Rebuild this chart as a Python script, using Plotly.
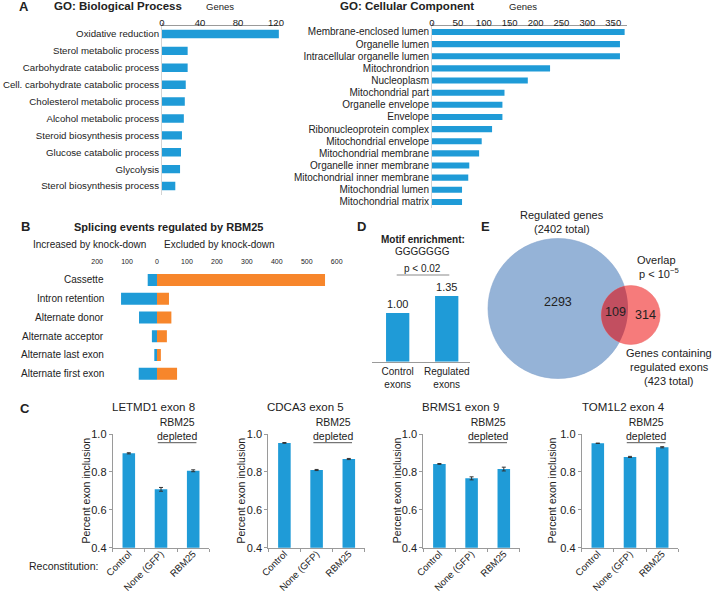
import math
import numpy as np
import plotly.graph_objects as go

W, H = 713, 593
FONT = "Arial, 'Liberation Sans', sans-serif"
BLUE = "#1F9BD7"
ORANGE = "#F7862B"
TXT = "#222222"
AXC = "#9a9a9a"

# ---------------- data ----------------
bp_terms = ["Oxidative reduction", "Sterol metabolic process", "Carbohydrate catabolic process",
            "Cell. carbohydrate catabolic process", "Cholesterol metabolic process",
            "Alcohol metabolic process", "Steroid biosynthesis process",
            "Glucose catabolic process", "Glycolysis", "Sterol biosynthesis process"]
bp_genes = [123, 27, 27, 25, 24, 23, 21, 20, 19, 14]
bp_ticks = [0, 40, 80, 120]

cc_terms = ["Membrane-enclosed lumen", "Organelle lumen", "Intracellular organelle lumen",
            "Mitochrondrion", "Nucleoplasm", "Mitochondrial part", "Organelle envelope",
            "Envelope", "Ribonucleoprotein complex", "Mitochondrial envelope",
            "Mitochondrial membrane", "Organelle inner membrane",
            "Mitochondrial inner membrane", "Mitochondrial lumen", "Mitochondrial matrix"]
cc_genes = [372, 363, 363, 228, 185, 140, 136, 136, 116, 96, 91, 72, 70, 58, 58]
cc_ticks = [0, 50, 100, 150, 200, 250, 300, 350]

splice_types = ["Cassette", "Intron retention", "Alternate donor", "Alternate acceptor",
                "Alternate last exon", "Alternate first exon"]
splice_increased = [31, 120, 60, 17, 9, 61]
splice_excluded = [561, 40, 48, 33, 13, 67]
splice_ticks = [-200, -100, 0, 100, 200, 300, 400, 500, 600]

motif_groups = ["Control<br>exons", "Regulated<br>exons"]
motif_values = [1.00, 1.35]

venn_regulated_total = 2402
venn_exon_total = 423
venn_overlap = 109

recon_conditions = ["Control", "None (GFP)", "RBM25"]
exon_names = ["LETMD1 exon 8", "CDCA3 exon 5", "BRMS1 exon 9", "TOM1L2 exon 4"]
inclusion = [[0.898, 0.708, 0.806],
             [0.953, 0.810, 0.868],
             [0.842, 0.766, 0.815],
             [0.951, 0.879, 0.930]]
inclusion_err = [[0.003, 0.010, 0.005],
                 [0.002, 0.003, 0.003],
                 [0.002, 0.008, 0.010],
                 [0.001, 0.003, 0.003]]
c_yticks = [0.4, 0.6, 0.8, 1.0]

# ---------------- helpers ----------------
def xd(a, b):
    return [a / W, b / W]

def yd(top, bot):
    return [1 - bot / H, 1 - top / H]

def px(x):
    return x / W

def py(y):
    return 1 - y / H

annotations = []
shapes = []

def ann(text, x, y, size=10, bold=False, xanchor="center", yanchor="middle",
        color=TXT, angle=0, xref="paper", yref="paper"):
    if bold:
        text = f"<b>{text}</b>"
    annotations.append(dict(
        text=text, x=px(x) if xref == "paper" else x, y=py(y) if yref == "paper" else y,
        xref=xref, yref=yref, showarrow=False, xanchor=xanchor, yanchor=yanchor,
        font=dict(size=size, color=color, family=FONT), textangle=angle))

common = dict(showgrid=False, zeroline=False, fixedrange=True, automargin=False)

fig = go.Figure()
lay = {}

# ---------------- Panel A ----------------
fig.add_trace(go.Bar(x=bp_genes, y=bp_terms, orientation="h", width=0.5,
                     marker=dict(color=BLUE, line_width=0), xaxis="x", yaxis="y"))
lay["xaxis"] = dict(domain=xd(162, 280.75), range=[0, 125], side="top", anchor="y",
                    tickvals=bp_ticks, showline=True, linecolor=AXC, ticks="outside",
                    ticklen=2, tickcolor=AXC, ticklabelstandoff=-7,
                    tickfont=dict(size=9.5, color=TXT), **common)
lay["yaxis"] = dict(domain=yd(25.5, 194.5), range=[9.5, -0.5], type="category", anchor="x",
                    dtick=1, showline=True, linecolor="#d4d4d4", ticks="",
                    tickfont=dict(size=9.7, color=TXT), **common)

fig.add_trace(go.Bar(x=cc_genes, y=cc_terms, orientation="h", width=0.5,
                     marker=dict(color=BLUE, line_width=0), xaxis="x2", yaxis="y2"))
lay["xaxis2"] = dict(domain=xd(432, 626.7), range=[0, 376], side="top", anchor="y2",
                     tickvals=cc_ticks, showline=True, linecolor=AXC, ticks="outside",
                     ticklen=2, tickcolor=AXC, ticklabelstandoff=-7,
                     tickfont=dict(size=9.5, color=TXT), **common)
lay["yaxis2"] = dict(domain=yd(25.9, 208.0), range=[14.5, -0.5], type="category", anchor="x2",
                     dtick=1, showline=True, linecolor="#d4d4d4", ticks="",
                     tickfont=dict(size=10, color=TXT), **common)

ann("A", 24, 6, size=13, bold=True)
ann("GO: Biological Process", 52, 6, size=11.5, bold=True, xanchor="left")
ann("Genes", 220, 6, size=9.5)
ann("GO: Cellular Component", 337.5, 6, size=11.5, bold=True, xanchor="left")
ann("Genes", 523, 6, size=9.5)

# ---------------- Panel B ----------------
fig.add_trace(go.Bar(x=[-v for v in splice_increased], y=splice_types, orientation="h",
                     width=0.64, marker=dict(color=BLUE, line_width=0),
                     xaxis="x3", yaxis="y3"))
fig.add_trace(go.Bar(x=splice_excluded, y=splice_types, orientation="h",
                     width=0.64, marker=dict(color=ORANGE, line_width=0),
                     xaxis="x3", yaxis="y3"))
lay["xaxis3"] = dict(domain=xd(88.1, 345.7), range=[-230, 630], side="top", anchor="y3",
                     tickvals=splice_ticks, ticktext=[str(abs(v)) for v in splice_ticks],
                     showline=False, ticks="", ticklabelstandoff=4,
                     tickfont=dict(size=7, color=TXT), **common)
lay["yaxis3"] = dict(domain=yd(270.6, 383.1), range=[5.5, -0.5], type="category", anchor="x3",
                     showticklabels=False, showline=False, ticks="", **common)
for name in splice_types:
    annotations.append(dict(text=name, x=px(105.5), y=name, xref="paper", yref="y3",
                            showarrow=False, xanchor="right", yanchor="middle",
                            font=dict(size=10, color=TXT, family=FONT)))

ann("B", 25, 227, size=13, bold=True)
ann("Splicing events regulated by RBM25", 72, 227, size=11, bold=True, xanchor="left")
ann("Increased by knock-down", 89, 244, size=10)
ann("Excluded by knock-down", 219.5, 244, size=10)

# ---------------- Panel D ----------------
fig.add_trace(go.Bar(x=motif_groups, y=motif_values, width=0.475,
                     marker=dict(color=BLUE, line_width=0),
                     text=[f"{v:.2f}" for v in motif_values], textposition="outside",
                     textfont=dict(size=11, color=TXT, family=FONT), cliponaxis=False,
                     xaxis="x4", yaxis="y4"))
lay["xaxis4"] = dict(domain=xd(371.7, 472.7), range=[-0.53, 1.53], type="category", anchor="y4",
                     showline=True, linecolor=AXC, ticks="",
                     tickfont=dict(size=10, color=TXT), **common)
lay["yaxis4"] = dict(domain=yd(288.7, 361.7), range=[0, 1.5], anchor="x4", visible=False, **common)

ann("D", 361.5, 227, size=13, bold=True)
ann("Motif enrichment:", 422.5, 239, size=10, bold=True)
ann("GGGGGGG", 423, 251, size=10)
ann("p &lt; 0.02", 422.5, 268, size=10)
shapes.append(dict(type="line", xref="paper", yref="paper", x0=px(396.7), x1=px(449.3),
                   y0=py(275), y1=py(275), line=dict(color="#b0b0b0", width=1.5)))

# ---------------- Panel E (Venn) ----------------
fig.add_trace(go.Scatter(x=[0], y=[0], mode="markers", marker=dict(opacity=0),
                         hoverinfo="skip", xaxis="x5", yaxis="y5"))
lay["xaxis5"] = dict(domain=xd(470, 713), range=[-88, 155], anchor="y5", visible=False, **common)
lay["yaxis5"] = dict(domain=yd(225, 395), range=[-86.5, 83.5], anchor="x5", visible=False, **common)

k_scale = 70 / math.sqrt(venn_regulated_total)
r1 = k_scale * math.sqrt(venn_regulated_total)
r2 = k_scale * math.sqrt(venn_exon_total)
c1 = np.array([0.0, 0.0])
c2 = np.array([72.7, -6.5])

shapes.append(dict(type="circle", xref="x5", yref="y5", x0=c1[0] - r1, x1=c1[0] + r1,
                   y0=c1[1] - r1, y1=c1[1] + r1, fillcolor="#95B3D7",
                   line=dict(width=0.6, color="#8aa8cf"), layer="below"))
shapes.append(dict(type="circle", xref="x5", yref="y5", x0=c2[0] - r2, x1=c2[0] + r2,
                   y0=c2[1] - r2, y1=c2[1] + r2, fillcolor="#F67B7B",
                   line=dict(width=0.6, color="#ee7070"), layer="below"))

d = float(np.linalg.norm(c2 - c1))
theta = math.atan2(c2[1] - c1[1], c2[0] - c1[0])
a = (d * d + r1 * r1 - r2 * r2) / (2 * d)
alpha1 = math.acos(a / r1)
alpha2 = math.acos((d - a) / r2)
pts = []
for t in np.linspace(theta - alpha1, theta + alpha1, 60):
    pts.append((c1[0] + r1 * math.cos(t), c1[1] + r1 * math.sin(t)))
for t in np.linspace(theta + math.pi - alpha2, theta + math.pi + alpha2, 60):
    pts.append((c2[0] + r2 * math.cos(t), c2[1] + r2 * math.sin(t)))
path = "M " + " L ".join(f"{x:.2f},{y:.2f}" for x, y in pts) + " Z"
shapes.append(dict(type="path", xref="x5", yref="y5", path=path, fillcolor="#C24F60",
                   line=dict(width=0), layer="below"))

ann("E", 485, 227, size=13, bold=True)
ann("Regulated genes", 561.5, 215, size=11)
ann(f"({venn_regulated_total} total)", 561.5, 228.5, size=11)
ann(str(venn_regulated_total - venn_overlap), 558, 302, size=12.5)
ann(str(venn_overlap), 615.3, 312, size=12.5)
ann(str(venn_exon_total - venn_overlap), 645, 315, size=12.5)
ann("Overlap", 656.5, 260, size=11)
ann("p &lt; 10<sup>\u22125</sup>", 658.5, 273, size=11)
ann("Genes containing", 668.5, 353.3, size=11)
ann("regulated exons", 669, 367.3, size=11)
ann(f"({venn_exon_total} total)", 669, 380.5, size=11)

# ---------------- Panel C ----------------
c_x0 = [112.7, 268.3, 423.3, 581.7]
c_title_x = [153, 305, 460.8, 623.3]
c_ytitle_x = [85, 240, 396.7, 551.7]
for i in range(4):
    xa = f"x{6 + i}"
    ya = f"y{6 + i}"
    fig.add_trace(go.Bar(x=recon_conditions, y=inclusion[i], width=0.39,
                         marker=dict(color=BLUE, line_width=0),
                         error_y=dict(type="data", array=inclusion_err[i], color="#333333",
                                      thickness=1, width=2),
                         xaxis=xa, yaxis=ya))
    lay[f"xaxis{6 + i}"] = dict(domain=xd(c_x0[i], c_x0[i] + 96.6), range=[-0.5, 2.5],
                                type="category", anchor=ya, showline=True, linecolor=AXC,
                                ticks="outside", tickson="boundaries", ticklen=3, tickcolor=AXC,
                                tickangle=-45, ticklabelstandoff=-4,
                                tickfont=dict(size=9.6, color=TXT), **common)
    lay[f"yaxis{6 + i}"] = dict(domain=yd(434, 547.7), range=[0.4, 1.0], anchor=xa,
                                tickvals=c_yticks, ticktext=[f"{v:.1f}" for v in c_yticks],
                                showline=True, linecolor=AXC, ticks="outside", ticklen=3,
                                tickcolor=AXC, tickfont=dict(size=11, color=TXT), **common)
    ann(exon_names[i], c_title_x[i], 406.7, size=11.5)
    ann("Percent exon inclusion", c_ytitle_x[i], 490.5, size=10.5, angle=-90)
    annotations.append(dict(text="RBM25<br>depleted", x=1.5, y=py(428.7), xref=xa, yref="paper",
                            showarrow=False, xanchor="center", yanchor="middle",
                            font=dict(size=10.5, color=TXT, family=FONT)))
    shapes.append(dict(type="line", xref=xa, yref="paper", x0=0.9, x1=2.1,
                       y0=py(442.7), y1=py(442.7), line=dict(color="#555555", width=1)))

ann("C", 25, 408, size=13, bold=True)
ann("Reconstitution:", 100, 566, size=10.5, xanchor="right")

fig.update_layout(
    template="none",
    width=W, height=H, autosize=False,
    margin=dict(l=0, r=0, t=0, b=0, pad=0),
    paper_bgcolor="white", plot_bgcolor="white",
    font=dict(family=FONT, color=TXT),
    barmode="relative", showlegend=False,
    annotations=annotations, shapes=shapes,
    **lay)

fig.write_html("out.html", config={"displayModeBar": False},
               post_script="document.body.style.margin='0px';document.body.style.overflow='hidden';")
